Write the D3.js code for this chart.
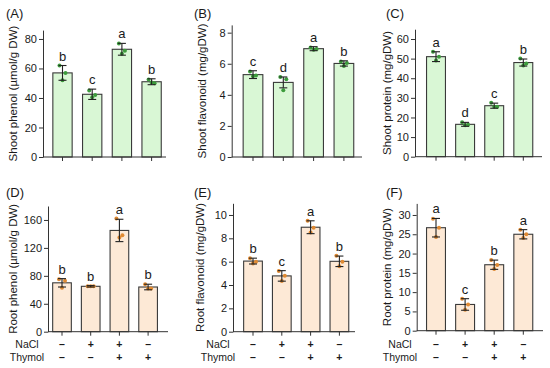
<!DOCTYPE html>
<html><head><meta charset="utf-8">
<script src="https://cdn.jsdelivr.net/npm/d3@7"></script>
<style>body{margin:0;background:#fff}svg{display:block}text{font-family:"Liberation Sans",Arial,sans-serif;fill:#1a1a1a}</style>
</head><body><svg id="c" width="550" height="368"></svg>
<script>
const treatments = ["1","2","3","4"];
const naclSigns = ["\u2013","+","+","\u2013"];
const thymolSigns = ["\u2013","\u2013","+","+"];

const panelLabels = ["(A)","(B)","(C)","(D)","(E)","(F)"];
const yTitles = ["Shoot phenol (\u00b5mol/g DW)","Shoot flavonoid (mg/gDW)","Shoot protein (mg/gDW)",
                 "Root phenol (\u00b5mol/g DW)","Root flavonoid (mg/gDW)","Root protein (mg/gDW)"];
const yMax = [86, 8.5, 65, 180, 11, 33];
const yTicks = [[0,20,40,60,80],[0,2,4,6,8],[0,10,20,30,40,50,60],[0,40,80,120,160],[0,2,4,6,8,10],[0,5,10,15,20,25,30]];

const meansA = [57, 42.5, 73, 51];
const errA   = [5, 3.5, 4, 2];
const ptsA   = [[62,57,52],[45,42,40.5],[77,72,70],[52.5,50,50.5]];
const letA   = ["b","c","a","b"];

const meansB = [5.3, 4.8, 6.97, 6.02];
const errB   = [0.25, 0.35, 0.13, 0.17];
const ptsB   = [[5.5,5.25,5.2],[5.15,5.0,4.3],[7.05,6.95,6.9],[6.15,6.05,5.85]];
const letB   = ["c","d","a","b"];

const meansC = [51, 16.5, 26, 48];
const errC   = [2.5, 1, 1.3, 1.8];
const ptsC   = [[53.5,51,49],[17.5,16.3,16],[27.5,25.5,25.5],[50,47.5,46.5]];
const letC   = ["a","d","c","b"];

const meansD = [70, 65, 145, 64];
const errD   = [6, 1, 16, 4];
const ptsD   = [[75,73,63],[65,65,65],[162,138,135],[68,62,62]];
const letD   = ["b","b","a","b"];

const meansE = [6.05, 4.78, 8.95, 6.03];
const errE   = [0.25, 0.45, 0.55, 0.45];
const ptsE   = [[6.3,6.0,5.85],[5.2,4.8,4.35],[9.5,8.9,8.5],[6.5,6.0,5.6]];
const letE   = ["b","c","a","b"];

const meansF = [26.7, 6.8, 17.1, 25];
const errF   = [2.4, 1.5, 1.2, 1.2];
const ptsF   = [[29,26.7,24.3],[8.3,6.8,5.4],[18.3,17,16],[26.2,25,24]];
const letF   = ["a","c","b","a"];

const series = [
  [meansA,errA,ptsA,letA],[meansB,errB,ptsB,letB],[meansC,errC,ptsC,letC],
  [meansD,errD,ptsD,letD],[meansE,errE,ptsE,letE],[meansF,errF,ptsF,letF]];

// layout (pixels)
const layout = [
  {ax:43,  y0:157,   yt:30.1, c0:62.5, step:29.7, xEnd:166, lx:6,   ly:18,  tx:13},
  {ax:231.7,y0:157,  yt:24.9, c0:253,  step:30.3, xEnd:362, lx:194, ly:18,  tx:202},
  {ax:415, y0:156.7, yt:29.2, c0:436,  step:29.1, xEnd:542, lx:386, ly:18,  tx:387},
  {ax:48,  y0:331.7, yt:206,  c0:62,   step:28.7, xEnd:168, lx:6,   ly:197, tx:13},
  {ax:233, y0:331.7, yt:203.3,c0:253,  step:28.8, xEnd:355, lx:194, ly:197, tx:200},
  {ax:416.7,y0:330.7,yt:203.4,c0:436,  step:29.1, xEnd:543, lx:386, ly:197, tx:387}
];
const fills = ["#d9f7d5","#fde9d6"];
const dotCols = ["#3c9c3c","#e08a32"];
const jitter = [-3, 3, 0];

const svg = d3.select("#c");
const axisCol = "#333";

series.forEach((s,i)=>{
  const L = layout[i];
  const [means,errs,pts,lets] = s;
  const row = i<3?0:1;
  const g = svg.append("g");
  const y = d3.scaleLinear().domain([0,yMax[i]]).range([L.y0,L.yt]);
  const x = d3.scaleBand().domain(treatments)
     .range([L.c0-L.step/2, L.c0+3.5*L.step]).paddingInner(0.35).paddingOuter(0.175);

  // y axis
  const ya = g.append("g").attr("transform",`translate(${L.ax},0)`)
    .call(d3.axisLeft(y).tickValues(yTicks[i]).tickSize(4).tickPadding(2).tickSizeOuter(0));
  ya.select(".domain").attr("stroke",axisCol);
  ya.selectAll(".tick line").attr("stroke",axisCol);
  ya.selectAll(".tick text").attr("font-size","11px").attr("fill","#1a1a1a").style("font-family","Liberation Sans, Arial, sans-serif");

  // bars
  g.selectAll("rect.bar").data(means).join("rect")
    .attr("x",(d,j)=>x(treatments[j])).attr("width",x.bandwidth())
    .attr("y",d=>y(d)).attr("height",d=>L.y0-y(d))
    .attr("fill",fills[row]).attr("stroke","#3a3a3a").attr("stroke-width",1.1);

  // x axis
  const xa = g.append("g").attr("transform",`translate(0,${L.y0})`);
  xa.append("line").attr("x1",L.ax).attr("x2",L.xEnd).attr("stroke",axisCol).attr("stroke-width",1);
  xa.selectAll("line.t").data(treatments).join("line").attr("class","t")
    .attr("x1",d=>x(d)+x.bandwidth()/2).attr("x2",d=>x(d)+x.bandwidth()/2)
    .attr("y1",0).attr("y2",4).attr("stroke",axisCol);

  // points
  pts.forEach((arr,j)=>{
    const cx = x(treatments[j])+x.bandwidth()/2;
    g.selectAll(null).data(arr).join("circle")
      .attr("cx",(d,k)=>cx+jitter[k]).attr("cy",d=>y(d)).attr("r",2)
      .attr("fill",dotCols[row]);
  });

  // error bars
  means.forEach((m,j)=>{
    const cx = x(treatments[j])+x.bandwidth()/2;
    const top=y(m+errs[j]), bot=y(m-errs[j]);
    g.append("line").attr("x1",cx).attr("x2",cx).attr("y1",top).attr("y2",bot).attr("stroke","#222").attr("stroke-width",1.1);
    [top,bot].forEach(yy=>g.append("line").attr("x1",cx-4).attr("x2",cx+4).attr("y1",yy).attr("y2",yy).attr("stroke","#222").attr("stroke-width",1.1));
    g.append("text").attr("x",cx).attr("y",top-5).attr("text-anchor","middle").attr("font-size","13px").text(lets[j]);
  });

  // panel label
  g.append("text").attr("x",L.lx).attr("y",L.ly).attr("font-size","13px").text(panelLabels[i]);
  // y title
  g.append("text").attr("transform",`translate(${L.tx+4},${(L.y0+L.yt)/2}) rotate(-90)`)
    .attr("text-anchor","middle").attr("font-size","11.5px").text(yTitles[i]);

  // treatment rows
  if(row===1){
    const labX = [27,218,400][i-3];
    g.append("text").attr("x",labX).attr("y",348).attr("text-anchor","middle").attr("font-size","10.5px").text("NaCl");
    g.append("text").attr("x",labX).attr("y",361).attr("text-anchor","middle").attr("font-size","10.5px").text("Thymol");
    treatments.forEach((t,j)=>{
      const cx = x(t)+x.bandwidth()/2;
      g.append("text").attr("x",cx).attr("y",348).attr("text-anchor","middle").attr("font-size","10.5px").attr("font-weight","bold").text(naclSigns[j]);
      g.append("text").attr("x",cx).attr("y",361).attr("text-anchor","middle").attr("font-size","10.5px").attr("font-weight","bold").text(thymolSigns[j]);
    });
  }
});
</script></body></html>
